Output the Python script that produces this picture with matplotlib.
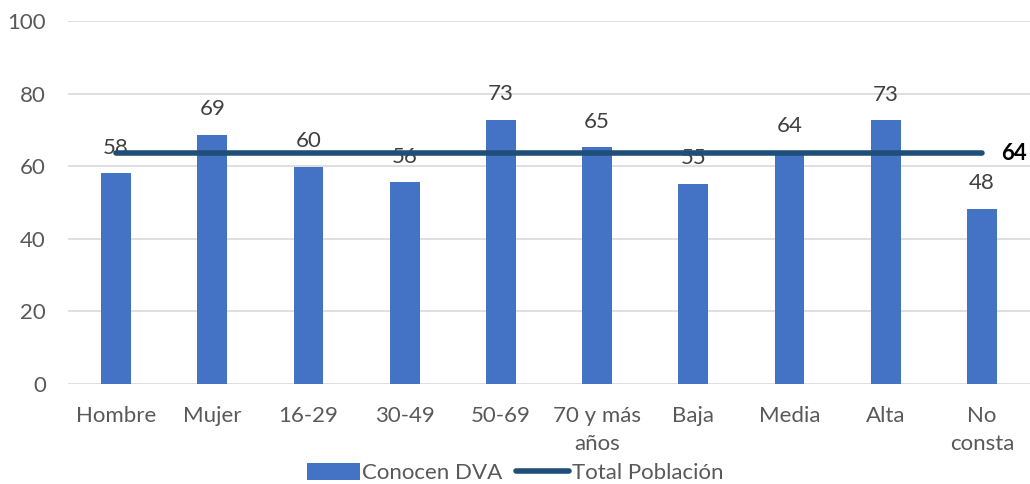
import matplotlib.pyplot as plt
import numpy as np
from matplotlib.lines import Line2D
from matplotlib.patches import Patch

plt.rcParams['font.family'] = ['Lato', 'DejaVu Sans']

categorias = ['Hombre', 'Mujer', '16-29', '30-49', '50-69', '70 y más\naños',
              'Baja', 'Media', 'Alta', 'No\nconsta']
conocen_dva = [58.1, 68.7, 59.9, 55.6, 72.8, 65.3, 55.2, 64.0, 72.6, 48.3]
total_poblacion = 63.6

azul_barra = '#4472C4'
azul_linea = '#1F4E79'
gris_texto = '#595959'

fig = plt.figure(figsize=(10.30, 4.84), dpi=100)
ax = fig.add_axes([0.066, 0.2066, 0.934, 0.75])

x = np.arange(len(categorias))
ax.bar(x, conocen_dva, width=0.31, color=azul_barra, zorder=2)
for xi, v in zip(x, conocen_dva):
    ax.annotate(f'{v:.0f}', (xi, v), xytext=(0, 11), textcoords='offset points',
                ha='center', va='bottom', fontsize=16, color='#404040')

ax.plot([x[0], x[-1]], [total_poblacion] * 2, color=azul_linea, lw=4,
        solid_capstyle='round', zorder=3)
ax.text(x[-1] + 0.2, total_poblacion, f'{total_poblacion:.0f}', ha='left',
        va='center', fontsize=16, fontweight='bold', color='black')

ax.set_xlim(-0.5, len(categorias) - 0.5)
ax.set_ylim(0, 100)
ax.set_yticks(range(0, 101, 20))
ax.set_xticks(x)
ax.set_xticklabels(categorias, fontsize=16, color=gris_texto, linespacing=1.5)
ax.tick_params(axis='y', labelsize=16, labelcolor=gris_texto, length=0, pad=16)
ax.tick_params(axis='x', length=0, pad=16)
ax.grid(axis='y', color='#D9D9D9', lw=1.2, zorder=0)
for s in ax.spines.values():
    s.set_visible(False)

handles = [Patch(facecolor=azul_barra, label='Conocen DVA'),
           Line2D([0], [0], color=azul_linea, lw=4, solid_capstyle='round',
                  label='Total Población')]
fig.legend(handles=handles, loc='center', bbox_to_anchor=(0.5, 0.022), ncol=2,
           frameon=False, fontsize=16, labelcolor=gris_texto, handlelength=2.4,
           handletextpad=0.1, columnspacing=0.6, handleheight=0.8)

fig.savefig('out.png', dpi=100)
